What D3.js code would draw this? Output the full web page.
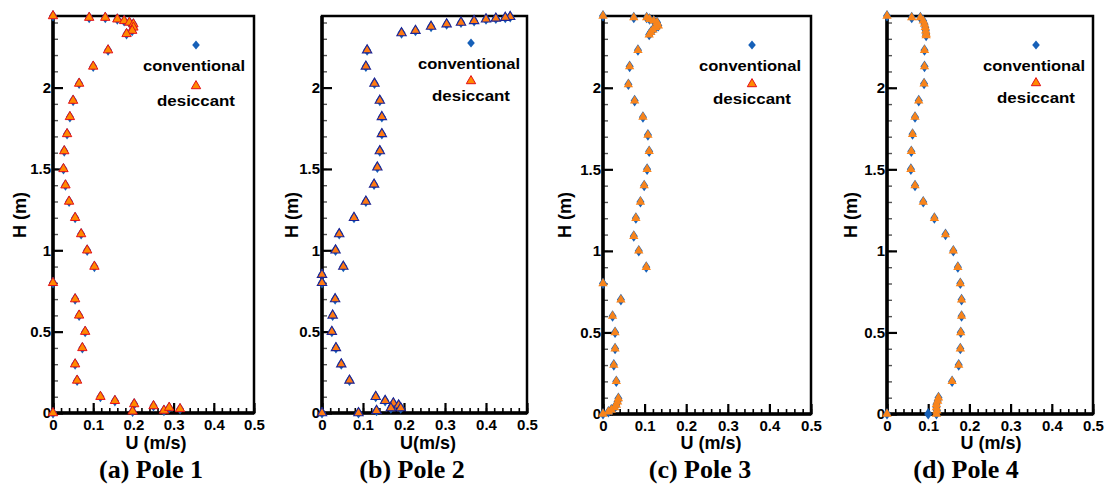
<!DOCTYPE html>
<html>
<head>
<meta charset="utf-8">
<script src="https://cdn.jsdelivr.net/npm/d3@7"></script>
<style>
  body { margin: 0; background: #fff; }
  svg { display: block; }
</style>
</head>
<body>
<svg id="chart" width="1110" height="491"></svg>
<script>
// Heights (m) and velocities U (m/s)
const pole1H    = [2.44, 2.43, 2.43, 2.42, 2.41, 2.40, 2.39, 2.37, 2.35, 2.33, 2.23, 2.13, 2.025, 1.92, 1.82, 1.715, 1.61, 1.50, 1.40, 1.30, 1.20, 1.10, 1.00, 0.90, 0.80, 0.70, 0.60, 0.50, 0.40, 0.30, 0.20, 0.10, 0.075, 0.055, 0.01, 0.043, 0.015, 0.033, 0.025, 0];
const pole1Conv = [0, 0.09, 0.13, 0.16, 0.177, 0.19, 0.20, 0.20, 0.197, 0.183, 0.137, 0.10, 0.065, 0.05, 0.042, 0.035, 0.028, 0.026, 0.031, 0.040, 0.055, 0.070, 0.085, 0.103, 0, 0.055, 0.065, 0.080, 0.073, 0.055, 0.060, 0.118, 0.154, 0.202, 0.198, 0.25, 0.276, 0.289, 0.316, 0];
const pole1Desi = [0, 0.09, 0.13, 0.16, 0.177, 0.19, 0.20, 0.20, 0.197, 0.183, 0.137, 0.10, 0.065, 0.05, 0.042, 0.035, 0.028, 0.026, 0.031, 0.040, 0.055, 0.070, 0.085, 0.103, 0, 0.055, 0.065, 0.080, 0.073, 0.055, 0.060, 0.118, 0.154, 0.202, 0.198, 0.25, 0.276, 0.289, 0.316, 0];

const pole2H    = [2.435, 2.43, 2.425, 2.42, 2.41, 2.40, 2.39, 2.375, 2.35, 2.335, 2.23, 2.13, 2.025, 1.92, 1.82, 1.715, 1.61, 1.51, 1.405, 1.30, 1.20, 1.10, 1.00, 0.90, 0.85, 0.80, 0.70, 0.60, 0.50, 0.40, 0.30, 0.20, 0.10, 0.075, 0.06, 0.047, 0.03, 0.03, 0.014, 0, 0];
const pole2Conv = [0.459, 0.447, 0.424, 0.40, 0.371, 0.339, 0.304, 0.266, 0.228, 0.194, 0.11, 0.107, 0.128, 0.141, 0.146, 0.146, 0.141, 0.135, 0.127, 0.107, 0.078, 0.042, 0.033, 0.052, 0, 0, 0.032, 0.026, 0.024, 0.034, 0.047, 0.067, 0.131, 0.154, 0.174, 0.187, 0.192, 0.168, 0.133, 0.089, 0];
const pole2Desi = [0.459, 0.447, 0.424, 0.40, 0.371, 0.339, 0.304, 0.266, 0.228, 0.194, 0.11, 0.107, 0.128, 0.141, 0.146, 0.146, 0.141, 0.135, 0.127, 0.107, 0.078, 0.042, 0.033, 0.052, 0, 0, 0.032, 0.026, 0.024, 0.034, 0.047, 0.067, 0.131, 0.154, 0.174, 0.187, 0.192, 0.168, 0.133, 0.089, 0];

const pole3H    = [2.44, 2.43, 2.43, 2.42, 2.41, 2.40, 2.38, 2.37, 2.355, 2.34, 2.325, 2.23, 2.13, 2.02, 1.92, 1.82, 1.71, 1.61, 1.50, 1.40, 1.30, 1.20, 1.09, 1.00, 0.90, 0.80, 0.70, 0.60, 0.50, 0.40, 0.30, 0.20, 0.095, 0.075, 0.055, 0.04, 0.025, 0.013, 0];
const pole3Conv = [0, 0.074, 0.105, 0.112, 0.122, 0.13, 0.133, 0.127, 0.12, 0.115, 0.111, 0.084, 0.064, 0.061, 0.076, 0.096, 0.108, 0.111, 0.106, 0.099, 0.09, 0.079, 0.074, 0.086, 0.104, 0, 0.043, 0.023, 0.029, 0.029, 0.026, 0.032, 0.037, 0.035, 0.032, 0.028, 0.02, 0.013, 0];
const pole3Desi = [0, 0.074, 0.105, 0.112, 0.122, 0.13, 0.133, 0.127, 0.12, 0.115, 0.111, 0.084, 0.064, 0.061, 0.076, 0.096, 0.108, 0.111, 0.106, 0.099, 0.09, 0.079, 0.074, 0.086, 0.104, 0, 0.043, 0.023, 0.029, 0.029, 0.026, 0.032, 0.037, 0.035, 0.032, 0.028, 0.02, 0.013, 0];

const pole4H    = [2.44, 2.43, 2.43, 2.41, 2.39, 2.37, 2.35, 2.33, 2.32, 2.23, 2.13, 2.025, 1.92, 1.82, 1.715, 1.61, 1.50, 1.40, 1.30, 1.20, 1.10, 1.00, 0.90, 0.80, 0.70, 0.60, 0.50, 0.40, 0.30, 0.20, 0.10, 0.08, 0.06, 0.04, 0.02, 0, 0, 0];
const pole4Conv = [0, 0.06, 0.081, 0.088, 0.091, 0.093, 0.094, 0.095, 0.095, 0.091, 0.091, 0.09, 0.077, 0.068, 0.062, 0.059, 0.058, 0.068, 0.088, 0.115, 0.142, 0.161, 0.172, 0.178, 0.181, 0.181, 0.179, 0.178, 0.174, 0.158, 0.125, 0.123, 0.12, 0.12, 0.121, 0.12, 0.10, 0];
const pole4Desi = [0, 0.06, 0.081, 0.088, 0.091, 0.093, 0.094, 0.095, 0.095, 0.091, 0.091, 0.09, 0.077, 0.068, 0.062, 0.059, 0.058, 0.068, 0.088, 0.115, 0.142, 0.161, 0.172, 0.178, 0.181, 0.181, 0.179, 0.178, 0.174, 0.158, 0.125, 0.123, 0.12, 0.12, 0.121, 0.12, null, 0];

const xTicks = [0, 0.1, 0.2, 0.3, 0.4, 0.5];
const xTickLabels = ["0", "0.1", "0.2", "0.3", "0.4", "0.5"];
const yTicks = [0, 0.5, 1, 1.5, 2];
const yTickLabels = ["0", "0.5", "1", "1.5", "2"];
const seriesNames = ["conventional", "desiccant"];
const xTitles = ["U (m/s)", "U(m/s)", "U (m/s)", "U (m/s)"];
const captions = ["(a) Pole 1", "(b) Pole 2", "(c) Pole 3", "(d) Pole 4"];

// panel frames and decorations (pixel layout)
const panels = [
  { H: pole1H, conv: pole1Conv, desi: pole1Desi, left: 53,  right: 254,  bottom: 413, hx: 20,  ux: 156, cx: 151, lx: 196, ly: [45, 86], tri: { fill: "#ff8a00", stroke: "#e3101a", sw: 1 } },
  { H: pole2H, conv: pole2Conv, desi: pole2Desi, left: 322, right: 527,  bottom: 413, hx: 292, ux: 428, cx: 412, lx: 471, ly: [43, 81], tri: { fill: "#ff7a12", stroke: "#1d2596", sw: 1.1 } },
  { H: pole3H, conv: pole3Conv, desi: pole3Desi, left: 603, right: 811,  bottom: 414, hx: 565, ux: 711, cx: 700, lx: 752, ly: [45, 84], tri: { fill: "#f7841c", stroke: "none", sw: 0 } },
  { H: pole4H, conv: pole4Conv, desi: pole4Desi, left: 887, right: 1093, bottom: 414, hx: 851, ux: 991, cx: 966, lx: 1036, ly: [45, 83], tri: { fill: "#f7841c", stroke: "none", sw: 0 } }
];

const plotTop = 16;
const blue = "#1660b8";
const font = "'Liberation Sans', Arial, sans-serif";
const diamondPath = "M0,-6L4,0L0,5.6L-4,0Z";
const legendDiamond = "M0,-4.6L3.8,0L0,4.6L-3.8,0Z";
const triPath = d3.symbol(d3.symbolTriangle, 38)();

const svg = d3.select("#chart");

panels.forEach((p, i) => {
  const w = p.right - p.left;
  const h = p.bottom - plotTop;
  const g = svg.append("g").attr("transform", `translate(${p.left},${plotTop})`);

  const x = d3.scaleLinear().domain([0, 0.5]).range([0, w]);
  const y = d3.scaleLinear().domain([0, 2.44]).range([h, 0]);

  // minor ticks
  g.append("g")
    .attr("transform", `translate(0,${h})`)
    .call(d3.axisBottom(x).tickValues(d3.range(0, 0.501, 0.02)).tickSize(-5).tickFormat(""))
    .call(s => s.select(".domain").remove())
    .selectAll("line").attr("stroke-width", 1.6);
  g.append("g")
    .call(d3.axisLeft(y).tickValues(d3.range(0, 2.41, 0.1)).tickSize(-5).tickFormat(""))
    .call(s => s.select(".domain").remove())
    .selectAll("line").attr("stroke", "#555").attr("stroke-width", 1.4);

  // major ticks + labels
  const xa = g.append("g")
    .attr("transform", `translate(0,${h})`)
    .call(d3.axisBottom(x).tickValues(xTicks).tickSize(-10).tickPadding(6)
      .tickFormat((d, k) => xTickLabels[k]));
  xa.select(".domain").remove();
  xa.selectAll("line").attr("stroke-width", 2.2);
  xa.selectAll("text").attr("font-family", font).attr("font-weight", "bold").attr("font-size", 15).attr("fill", "#000");

  const ya = g.append("g")
    .call(d3.axisLeft(y).tickValues(yTicks).tickSize(-10).tickPadding(2)
      .tickFormat((d, k) => yTickLabels[k]));
  ya.select(".domain").remove();
  ya.selectAll("line").attr("stroke-width", 2.2);
  ya.selectAll("text").attr("font-family", font).attr("font-weight", "bold").attr("font-size", 15).attr("fill", "#000");

  // frame
  g.append("rect").attr("width", w).attr("height", h)
    .attr("fill", "none").attr("stroke", "#000").attr("stroke-width", 2.5);
  g.append("path").attr("d", `M0,0V${h}H${w}`)
    .attr("fill", "none").attr("stroke", "#000").attr("stroke-width", 3.5);

  // data points: conventional diamonds under desiccant triangles
  const conv = p.H.map((hv, k) => ({ h: hv, u: p.conv[k] })).filter(d => d.u != null);
  const desi = p.H.map((hv, k) => ({ h: hv, u: p.desi[k] })).filter(d => d.u != null);

  g.append("g").selectAll("path").data(conv).join("path")
    .attr("d", diamondPath)
    .attr("transform", d => `translate(${x(d.u)},${y(d.h)})`)
    .attr("fill", blue);

  g.append("g").selectAll("path").data(desi).join("path")
    .attr("d", triPath)
    .attr("transform", d => `translate(${x(d.u)},${y(d.h)})`)
    .attr("fill", p.tri.fill)
    .attr("stroke", p.tri.stroke)
    .attr("stroke-width", p.tri.sw);

  // legend
  svg.append("path").attr("d", legendDiamond)
    .attr("transform", `translate(${p.lx},${p.ly[0]})`).attr("fill", blue);
  svg.append("text").attr("x", p.lx - 2).attr("y", p.ly[0] + 26)
    .attr("text-anchor", "middle").attr("font-family", font).attr("font-weight", "bold")
    .attr("font-size", 15).attr("textLength", 102).attr("lengthAdjust", "spacingAndGlyphs")
    .text(seriesNames[0]);
  svg.append("path").attr("d", triPath)
    .attr("transform", `translate(${p.lx},${p.ly[1]})`)
    .attr("fill", "#ff8a00").attr("stroke", "#e3101a").attr("stroke-width", 1);
  svg.append("text").attr("x", p.lx).attr("y", p.ly[1] + 20)
    .attr("text-anchor", "middle").attr("font-family", font).attr("font-weight", "bold")
    .attr("font-size", 15).attr("textLength", 78).attr("lengthAdjust", "spacingAndGlyphs")
    .text(seriesNames[1]);

  // axis titles
  svg.append("text").attr("x", p.ux).attr("y", 449)
    .attr("text-anchor", "middle").attr("font-family", font).attr("font-weight", "bold")
    .attr("font-size", 18).text(xTitles[i]);
  svg.append("text")
    .attr("transform", `translate(${p.hx + 6},215) rotate(-90)`)
    .attr("text-anchor", "middle").attr("font-family", font).attr("font-weight", "bold")
    .attr("font-size", 18).text("H (m)");

  // caption
  svg.append("text").attr("x", p.cx).attr("y", 478)
    .attr("text-anchor", "middle").attr("font-family", "'Liberation Serif', 'Times New Roman', serif")
    .attr("font-weight", "bold").attr("font-size", 26).text(captions[i]);
});
</script>
</body>
</html>
